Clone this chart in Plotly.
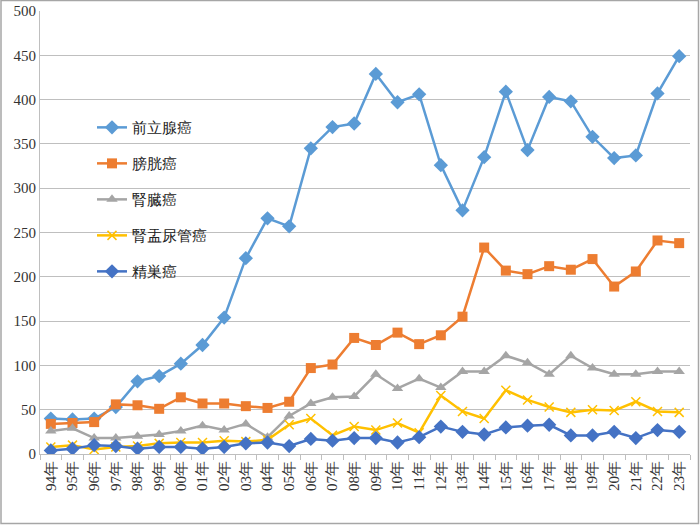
import plotly.graph_objects as go

years = ["94年","95年","96年","97年","98年","99年","00年","01年","02年","03年",
         "04年","05年","06年","07年","08年","09年","10年","11年","12年","13年",
         "14年","15年","16年","17年","18年","19年","20年","21年","22年","23年"]

prostate = [40, 39, 40, 53, 82, 88, 102, 123, 154, 221,
            266, 257, 345, 369, 373, 429, 397, 406, 326, 275,
            335, 409, 343, 403, 398, 358, 334, 337, 407, 449]
bladder = [34, 35, 36, 56, 55, 51, 64, 57, 57, 54,
           52, 59, 97, 101, 131, 123, 137, 124, 134, 155,
           233, 207, 203, 212, 208, 220, 189, 206, 241, 238]
kidney = [26, 29, 18, 18, 20, 22, 26, 32, 27, 34,
          19, 43, 57, 64, 65, 90, 74, 85, 75, 93,
          93, 111, 103, 90, 111, 97, 90, 90, 93, 93]
pelvis_ureter = [8, 10, 5, 8, 9, 12, 13, 13, 15, 14,
                 16, 33, 40, 21, 31, 27, 35, 24, 66, 48,
                 40, 72, 61, 53, 47, 50, 49, 59, 48, 47]
testis = [4, 6, 10, 9, 6, 8, 8, 6, 8, 12,
          13, 9, 17, 15, 18, 18, 13, 19, 31, 25,
          22, 30, 32, 33, 21, 21, 25, 18, 27, 25]

series = [
    ("前立腺癌", prostate, "#5B9BD5", "diamond", 11),
    ("膀胱癌", bladder, "#ED7D31", "square", 10),
    ("腎臓癌", kidney, "#A5A5A5", "triangle-up", 10),
    ("腎盂尿管癌", pelvis_ureter, "#FFC000", "x-thin-open", 9),
    ("精巣癌", testis, "#4472C4", "diamond", 11),
]

fig = go.Figure()
for i, (name, vals, color, sym, size) in enumerate(series):
    marker = dict(symbol=sym, size=size, color=color)
    if sym == "x-thin-open":
        marker["line"] = dict(color=color, width=1.5)
    fig.add_trace(go.Scatter(
        x=years, y=vals, name=name, mode="lines+markers",
        line=dict(color=color, width=2.5),
        marker=marker, legendgroup=str(i),
    ))

font_family = "'Liberation Serif', 'Times New Roman', 'DejaVu Serif', serif"
fig.update_layout(
    width=700, height=525,
    margin=dict(l=40, r=10, t=11, b=71),
    paper_bgcolor="white", plot_bgcolor="white",
    font=dict(family=font_family, size=15, color="#333333"),
    showlegend=True,
    legend=dict(x=0.080, y=0.774, xanchor="left", yanchor="top",
                bgcolor="rgba(0,0,0,0)", font=dict(size=15, color="#222222"),
                tracegroupgap=13.5, itemwidth=30),
    xaxis=dict(type="category", showgrid=False, showline=True, linecolor="#BFBFBF",
               linewidth=1, ticks="outside", tickson="boundaries", ticklen=5,
               tickcolor="#BFBFBF", tickangle=-90, tickfont=dict(size=15, color="#333333"),
               range=[-0.5, 29.5], automargin=False),
    yaxis=dict(range=[0, 500], dtick=50, showgrid=True, gridcolor="#BFBFBF",
               gridwidth=1, showline=True, linecolor="#BFBFBF", zeroline=False,
               tickfont=dict(size=15, color="#333333"), ticks="", automargin=False),
    shapes=[dict(type="rect", xref="paper", yref="paper", x0=-39/650, x1=1+8.5/650,
                 y0=-69.5/443, y1=1+10.5/443, line=dict(color="#A6A6A6", width=1.5))],
)

fig.write_html("out.html", config={"displayModeBar": False},
               post_script="document.body.style.margin='0';")
